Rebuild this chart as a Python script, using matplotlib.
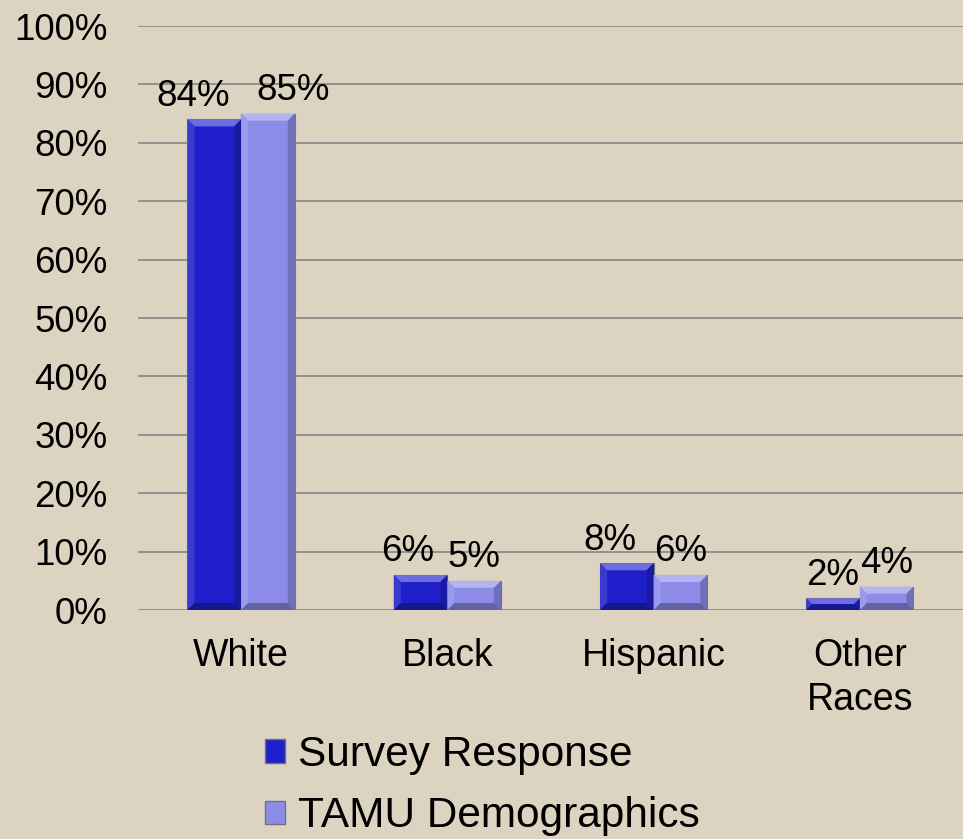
import matplotlib
matplotlib.use("Agg")
import matplotlib.pyplot as plt
from matplotlib.patches import Polygon, Patch
from matplotlib.colors import to_rgb
import numpy as np

categories = ["White", "Black", "Hispanic", "Other\nRaces"]
survey = [84, 6, 8, 2]
tamu = [85, 5, 6, 4]
series_names = ["Survey Response", "TAMU Demographics"]
yticks = [0, 10, 20, 30, 40, 50, 60, 70, 80, 90, 100]

BG = "#DDD3C1"
C_DARK = "#1F1FCB"
C_LIGHT = "#8C8CE8"
FONT = ["Liberation Sans", "DejaVu Sans"]
plt.rcParams["font.family"] = FONT

fig = plt.figure(figsize=(9.63, 8.39), dpi=100, facecolor=BG)
ax = fig.add_axes([0.1433, 0.2729, 0.8567, 0.6961])
ax.set_facecolor(BG)

x = np.arange(len(categories))
w = 0.26
b1 = ax.bar(x - w / 2, survey, w, color=C_DARK, edgecolor="#707080", linewidth=0.8, zorder=3)
b2 = ax.bar(x + w / 2, tamu, w, color=C_LIGHT, edgecolor="#707080", linewidth=0.8, zorder=3)

ax.set_xlim(-0.5, len(categories) - 0.5)
ax.set_ylim(0, 100)
ax.set_yticks(yticks)
ax.set_yticklabels([f"{t}%" for t in yticks], fontsize=26.5)
ax.set_xticks(x)
ax.set_xticklabels(categories, fontsize=27, linespacing=1.29)
ax.tick_params(axis="y", length=0, pad=22)
ax.tick_params(axis="x", length=0, pad=20)
for s in ax.spines.values():
    s.set_visible(False)
ax.yaxis.grid(True, color="#8C8C8C", linewidth=1.3, zorder=0)
ax.set_axisbelow(True)

# data labels
off1 = [-15, -9, -12, 0]
off2 = [18, 0, 0, 0]
for xi, v, dx in zip(x - w / 2, survey, off1):
    ax.annotate(f"{v}%", (xi, v), xytext=(dx, 4), textcoords="offset points",
                ha="center", va="bottom", fontsize=26.5, zorder=5)
for xi, v, dx in zip(x + w / 2, tamu, off2):
    ax.annotate(f"{v}%", (xi, v), xytext=(dx, 4), textcoords="offset points",
                ha="center", va="bottom", fontsize=26.5, zorder=5)

# bevel effect
def shade(c, f):
    r = np.array(to_rgb(c))
    if f > 0:
        return tuple(r + (1 - r) * f)
    return tuple(r * (1 + f))

fig.canvas.draw()
bev = 7  # px

def add_bevel(rect, color):
    x0, y0 = rect.get_x(), rect.get_y()
    x1, y1 = x0 + rect.get_width(), y0 + rect.get_height()
    (px0, py0), (px1, py1) = ax.transData.transform([(x0, y0), (x1, y1)])
    b = min(bev, (py1 - py0) / 2, (px1 - px0) / 2)
    inv = ax.transData.inverted()
    def P(pts):
        return inv.transform(pts)
    polys = [
        (P([(px0, py1), (px1, py1), (px1 - b, py1 - b), (px0 + b, py1 - b)]), shade(color, 0.35)),
        (P([(px0, py0), (px0, py1), (px0 + b, py1 - b), (px0 + b, py0 + b)]), shade(color, 0.12)),
        (P([(px1, py0), (px1, py1), (px1 - b, py1 - b), (px1 - b, py0 + b)]), shade(color, -0.2)),
        (P([(px0, py0), (px1, py0), (px1 - b, py0 + b), (px0 + b, py0 + b)]), shade(color, -0.3)),
    ]
    for pts, c in polys:
        ax.add_patch(Polygon(pts, closed=True, facecolor=c, edgecolor="none", zorder=4))

for r in b1:
    add_bevel(r, C_DARK)
for r in b2:
    add_bevel(r, C_LIGHT)

handles = [Patch(facecolor=C_DARK, edgecolor="#707080"), Patch(facecolor=C_LIGHT, edgecolor="#707080")]
leg = fig.legend(handles, series_names, loc="upper left", bbox_to_anchor=(0.2537, 0.149),
                 frameon=False, fontsize=30.5, handlelength=0.47, handleheight=0.47,
                 handletextpad=0.3, labelspacing=0.5, borderpad=0)
fig.savefig("out.png", dpi=100, facecolor=BG)
